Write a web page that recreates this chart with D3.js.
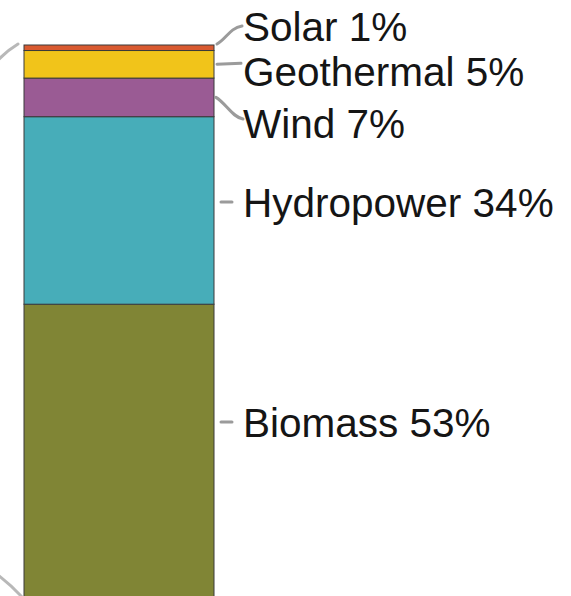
<!DOCTYPE html>
<html>
<head>
<meta charset="utf-8">
<script src="https://cdn.jsdelivr.net/npm/d3@7"></script>
<style>
  html, body { margin: 0; padding: 0; background: #fff; }
  svg { display: block; }
</style>
</head>
<body>
<svg id="chart" width="571" height="596"></svg>
<script>
// Data (bottom to top of the stacked bar)
const categories = ["Biomass", "Hydropower", "Wind", "Geothermal", "Solar"];
const shares = [53, 34, 7, 5, 1];
const colors = ["#808535", "#47adb9", "#9a5b94", "#f1c41a", "#d95a30"];

const W = 571, H = 596;
const svg = d3.select("#chart");

const barX0 = 24, barX1 = 214;
const y = d3.scaleLinear().domain([0, 100]).range([596.5, 45]);

// cumulative stacks
let acc = 0;
const stacked = categories.map((c, i) => {
  const d = { cat: c, v: shares[i], y0: acc, y1: acc + shares[i], color: colors[i] };
  acc += shares[i];
  return d;
});

// connector lines on the left (bar-of-pie style)
const leftLines = svg.append("g")
  .attr("fill", "none").attr("stroke", "#9a9a9a").attr("stroke-width", 3)
  .attr("stroke-linecap", "round").attr("opacity", 0.7);
leftLines.append("path").attr("d", "M-2,60 Q8,50 18,44");
leftLines.append("path").attr("d", "M-2,575 Q10,584 22,597");

// bar segments
svg.append("g").selectAll("rect").data(stacked).join("rect")
  .attr("x", barX0)
  .attr("width", barX1 - barX0)
  .attr("y", d => y(d.y1))
  .attr("height", d => y(d.y0) - y(d.y1))
  .attr("fill", d => d.color)
  .attr("stroke", "#3a3a3a")
  .attr("stroke-width", 1);

// label layout (vertical centre of each label)
const labelCenterY = { Solar: 26, Geothermal: 71, Wind: 123, Hydropower: 202, Biomass: 422 };

const labels = svg.append("g")
  .attr("font-family", "'Liberation Sans', Arial, sans-serif")
  .attr("font-size", 40.5)
  .attr("fill", "#151515");

labels.selectAll("text").data(stacked).join("text")
  .attr("x", 243)
  .attr("y", d => labelCenterY[d.cat])
  .attr("dy", "0.36em")
  .text(d => `${d.cat} ${d.v}%`);

// leader lines
const leaders = svg.append("g")
  .attr("fill", "none").attr("stroke", "#8a8a8a").attr("stroke-width", 3)
  .attr("stroke-linecap", "round").attr("opacity", 0.85);

stacked.forEach(d => {
  const ym = (y(d.y0) + y(d.y1)) / 2;
  const ly = labelCenterY[d.cat];
  let path;
  if (d.cat === "Solar") {
    path = `M217,${y(d.y1) - 1} C226,${y(d.y1) - 6} 230,${ly + 2} 242,${ly}`;
  } else if (d.cat === "Geothermal") {
    path = `M217,${ym} L241,${ym - 1}`;
  } else if (d.cat === "Wind") {
    path = `M216,${ym} C226,${ym + 6} 232,${ly - 6} 243,${ly - 4}`;
  } else {
    path = `M221,${ly} L232,${ly}`;
  }
  leaders.append("path").attr("d", path);
});
</script>
</body>
</html>
